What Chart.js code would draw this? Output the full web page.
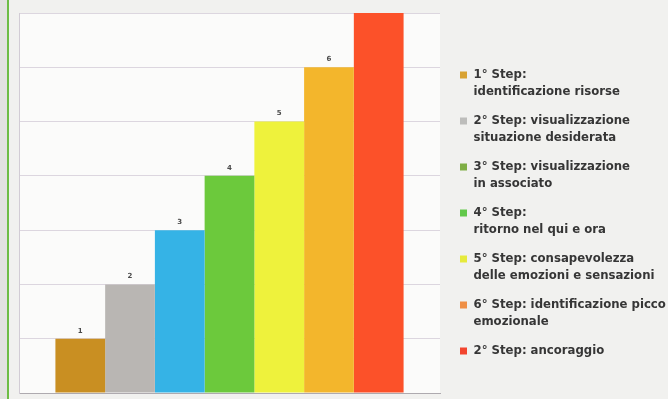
<!DOCTYPE html>
<html>
<head>
<meta charset="utf-8">
<script src="https://cdn.jsdelivr.net/npm/chart.js@4.4.0/dist/chart.umd.min.js"></script>
<style>
  html, body { margin: 0; padding: 0; background: #f1f1ef; overflow: hidden; }
  #wrap { position: relative; width: 668px; height: 399px; overflow: hidden; }
  #edge { position: absolute; left: 0; top: 0; width: 7px; height: 399px; background: #e2e2e0; border-right: 2px solid #6dbd45; }
  #holder { position: absolute; left: 0; top: 0; }
</style>
</head>
<body>
<div id="wrap">
  <div id="edge"></div>
  <div id="holder"><canvas id="steps-chart" width="676" height="399"></canvas></div>
</div>
<script>
// one category, one dataset per step (bars sit side by side)
const categories = ["Fasi"];
const stepLabels = [
  ["1° Step:", "identificazione risorse"],
  ["2° Step: visualizzazione", "situazione desiderata"],
  ["3° Step: visualizzazione", "in associato"],
  ["4° Step:", "ritorno nel qui e ora"],
  ["5° Step: consapevolezza", "delle emozioni e sensazioni"],
  ["6° Step: identificazione picco", "emozionale"],
  ["2° Step: ancoraggio"],
];
const stepValues = [1, 2, 3, 4, 5, 6, 7];
const yMin = 0;
const yMax = 7;
const yStep = 1;
const barColors = ["#c98f22", "#b9b6b3", "#35b3e6", "#6cc93c", "#eef23c", "#f3b62c", "#fc5129"];
const legendColors = ["#d8a232", "#bdbdbb", "#7fae45", "#62c84a", "#e6ea3c", "#ef8f45", "#f2452e"];

const legendFont = { family: "'DejaVu Sans Condensed', 'DejaVu Sans', sans-serif", size: 13, weight: "bold", lineHeight: 17 / 13 };
const legendTextColor = "#363636";

// paints the plot background a bit whiter than the page
const plotBg = {
  id: "plotBg",
  beforeDraw(chart) {
    const { ctx, chartArea: a } = chart;
    ctx.save();
    ctx.fillStyle = "#fbfbfa";
    ctx.fillRect(a.left, a.top, a.right - a.left, a.bottom - a.top);
    ctx.restore();
  },
};

// tiny value labels above the bars
const valueLabels = {
  id: "valueLabels",
  afterDatasetsDraw(chart) {
    const { ctx, chartArea } = chart;
    ctx.save();
    ctx.font = "bold 7px 'DejaVu Sans', sans-serif";
    ctx.fillStyle = "#4a4a4a";
    ctx.textAlign = "center";
    ctx.textBaseline = "middle";
    chart.data.datasets.forEach((ds, i) => {
      chart.getDatasetMeta(i).data.forEach((bar, j) => {
        const y = bar.y - 8;
        if (y > chartArea.top + 2) ctx.fillText(ds.data[j], bar.x, y);
      });
    });
    ctx.restore();
  },
};

// fixed legend width so the plot keeps its place
const legendWidth = {
  id: "legendWidth",
  beforeUpdate(chart) {
    const lg = chart.legend;
    if (lg && !lg._fixed) {
      const fit = lg.fit;
      lg.fit = function () {
        fit.call(this);
        this.width = 228;
      };
      lg._fixed = true;
    }
  },
};

new Chart(document.getElementById("steps-chart"), {
  type: "bar",
  data: {
    labels: categories,
    datasets: stepValues.map((v, i) => ({
      label: stepLabels[i].join(" "),
      data: [v],
      backgroundColor: barColors[i],
      borderWidth: 0,
    })),
  },
  options: {
    responsive: false,
    animation: false,
    layout: { padding: { left: 19, top: 13, bottom: 6, right: 0 } },
    datasets: { bar: { categoryPercentage: 0.827, barPercentage: 1.0 } },
    scales: {
      x: {
        grid: { display: false, drawTicks: false },
        ticks: { display: false },
        border: { color: "#aeaaaf", width: 1 },
      },
      y: {
        min: yMin,
        max: yMax,
        ticks: { display: false, stepSize: yStep },
        grid: { color: "#dcd6df", drawTicks: false },
        border: { color: "#d2ccd5" },
      },
      gap: {
        type: "linear",
        position: "right",
        grid: { display: false, drawTicks: false },
        ticks: { display: false },
        border: { display: false },
        afterFit(scale) { scale.width = 8; },
      },
    },
    plugins: {
      tooltip: { enabled: false },
      legend: {
        position: "right",
        align: "start",
        title: { display: true, text: "", font: { size: 10, lineHeight: 1 }, padding: { top: 0, bottom: 33.5 } },
        labels: {
          boxWidth: 7,
          boxHeight: 7,
          padding: 12,
          color: legendTextColor,
          font: legendFont,
          generateLabels(chart) {
            return chart.data.datasets.map((ds, i) => ({
              text: stepLabels[i],
              fillStyle: legendColors[i],
              strokeStyle: legendColors[i],
              fontColor: legendTextColor,
              lineWidth: 0,
              hidden: false,
              datasetIndex: i,
            }));
          },
        },
      },
    },
  },
  plugins: [plotBg, valueLabels, legendWidth],
});
</script>
</body>
</html>
